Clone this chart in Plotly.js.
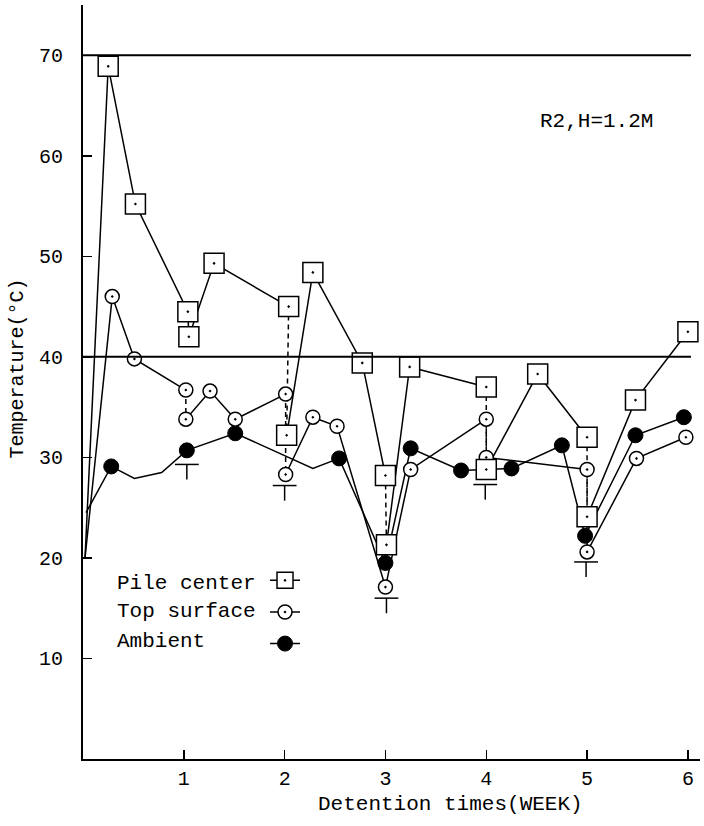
<!DOCTYPE html>
<html><head><meta charset="utf-8">
<script src="https://cdn.plot.ly/plotly-3.0.1.min.js"></script>
<style>html,body{margin:0;padding:0;background:#fff}</style>
</head><body><div id="chart" style="width:704px;height:826px"></div>
<script>
// ---- data (weeks, °C) ----
const pileWeek = [0.02, 0.25, 0.52, 1.04, 1.05, 1.30, 2.04, 2.02, 2.28, 2.77, 3.00, 3.01, 3.24, 4.00, 4.00, 4.51, 5.00, 5.00, 5.48, 6.00];
const pileTemp = [20.0, 68.9, 55.2, 44.5, 42.0, 49.3, 45.0, 32.2, 48.4, 39.4, 28.2, 21.3, 39.0, 37.0, 28.8, 38.3, 32.0, 24.1, 35.7, 42.5];
const pileMeasured = [0,1,1,1,1,1,1,1,1,1,1,1,1,1,1,1,1,1,1,1];
const pileAfterTurn = [7, 11, 14, 17];

const topWeek = [0.02, 0.29, 0.51, 1.02, 1.02, 1.26, 1.51, 2.01, 2.01, 2.28, 2.52, 3.00, 3.25, 4.00, 4.00, 5.00, 5.00, 5.49, 5.98];
const topTemp = [20.0, 46.0, 39.8, 36.7, 33.8, 36.6, 33.8, 36.3, 28.3, 34.0, 33.1, 17.1, 28.8, 33.8, 30.0, 28.8, 20.6, 29.9, 32.0];
const topMeasured = [0,1,1,1,1,1,1,1,1,1,1,1,1,1,1,1,1,1,1];
const topAfterTurn = [4, 8, 14, 16];

const ambWeek = [0.03, 0.28, 0.51, 0.78, 1.03, 1.51, 2.28, 2.54, 3.00, 3.25, 3.75, 4.25, 4.75, 4.98, 5.48, 5.96];
const ambTemp = [24.5, 29.1, 27.9, 28.5, 30.7, 32.4, 28.9, 29.9, 19.5, 30.9, 28.7, 28.9, 31.2, 22.2, 32.2, 34.0];
const ambMeasured = [0,1,0,0,1,1,0,1,1,1,1,1,1,1,1,1];
const ambAfterTurn = [];

// pile turning marks (top of the "T")
const turnWeek = [1.03, 2.00, 3.01, 3.99, 4.99];
const turnTemp = [29.3, 27.2, 16.0, 27.3, 19.6];

const refLevels = [40, 70];
const seriesNames = ['Pile center', 'Top surface', 'Ambient'];
const xTicks = [1, 2, 3, 4, 5, 6];
const yTicks = [10, 20, 30, 40, 50, 60, 70];

// ---- build ----
const FONT = 'Liberation Mono, Courier New, monospace';
function split(x, y, measured, after) {
  const s = {x: [], y: []}, d = {x: [], y: []}, m = {x: [], y: []};
  for (let i = 0; i < x.length; i++) {
    if (after.includes(i)) {
      s.x.push(null); s.y.push(null);
      d.x.push(x[i-1], x[i], null); d.y.push(y[i-1], y[i], null);
    }
    s.x.push(x[i]); s.y.push(y[i]);
    if (measured[i]) { m.x.push(x[i]); m.y.push(y[i]); }
  }
  return {s, d, m};
}
const P = split(pileWeek, pileTemp, pileMeasured, pileAfterTurn);
const T = split(topWeek, topTemp, topMeasured, topAfterTurn);
const A = split(ambWeek, ambTemp, ambMeasured, ambAfterTurn);

const lineStyle = {color: '#000', width: 1.5};
const dashStyle = {color: '#000', width: 1.5, dash: '5px,4px'};
const mk = {
  pile: {symbol: 'square-dot', size: 20, color: '#fff', line: {color: '#000', width: 1.5}},
  top: {symbol: 'circle-dot', size: 14, color: '#fff', line: {color: '#000', width: 1.5}},
  amb: {symbol: 'circle', size: 15, color: '#000', line: {color: '#000', width: 1}}
};
const traces = [];
[P, T, A].forEach(S => {
  traces.push({x: S.s.x, y: S.s.y, mode: 'lines', line: lineStyle, showlegend: false, hoverinfo: 'skip'});
  if (S.d.x.length) traces.push({x: S.d.x, y: S.d.y, mode: 'lines', line: dashStyle, showlegend: false, hoverinfo: 'skip'});
});
// turning marks: horizontal bar with a stem downwards
traces.push({x: turnWeek, y: turnTemp, mode: 'markers',
  marker: {symbol: 'line-ew', size: 17, color: '#000', line: {color: '#000', width: 1.5}},
  error_y: {type: 'constant', symmetric: false, value: 0, valueminus: 1.5, width: 0, thickness: 1.5, color: '#000'},
  showlegend: false, hoverinfo: 'skip'});
traces.push({x: A.m.x, y: A.m.y, mode: 'markers', marker: mk.amb, showlegend: false});
traces.push({x: T.m.x, y: T.m.y, mode: 'markers', marker: mk.top, showlegend: false});
traces.push({x: P.m.x, y: P.m.y, mode: 'markers', marker: mk.pile, showlegend: false});
// legend keys
[mk.pile, mk.top, mk.amb].forEach((m, i) => {
  traces.push({x: [null], y: [null], mode: 'lines+markers', name: ' ', line: lineStyle,
    marker: Object.assign({}, m, {size: Math.min(m.size, 16)}), showlegend: true});
});

const legendY = [0.2334, 0.1954, 0.1556];
const annotations = seriesNames.map((n, i) => ({
  xref: 'paper', yref: 'paper', x: 0.0519, y: legendY[i], xanchor: 'left', yanchor: 'middle',
  text: n, showarrow: false, font: {family: FONT, size: 21, color: '#000'}
}));
annotations.push({xref: 'x', yref: 'y', x: 5.09, y: 63.4, text: 'R2,H=1.2M', showarrow: false,
  font: {family: FONT, size: 21, color: '#000'}});
annotations.push({xref: 'paper', yref: 'paper', x: 0.595, y: -0.0606, xanchor: 'center', yanchor: 'middle',
  text: 'Detention times(WEEK)', showarrow: false, font: {family: FONT, size: 21, color: '#000'}});
annotations.push({xref: 'paper', yref: 'paper', x: -0.107, y: 0.518, xanchor: 'center', yanchor: 'middle',
  textangle: -90, text: 'Temperature(°C)', showarrow: false, font: {family: FONT, size: 20, color: '#000'}});

const shapes = refLevels.map(v => ({type: 'line', xref: 'x', yref: 'y', x0: 0, x1: 6.03, y0: v, y1: v,
  line: {color: '#000', width: 2}}));

const layout = {
  width: 704, height: 826,
  margin: {l: 83, r: 4, t: 5, b: 67},
  paper_bgcolor: '#fff', plot_bgcolor: '#fff',
  font: {family: FONT, color: '#000', size: 20},
  showlegend: true,
  legend: {x: 0.295, y: 0.2645, xanchor: 'left', yanchor: 'top', bgcolor: 'rgba(0,0,0,0)',
    borderwidth: 0, font: {family: FONT, size: 22}, itemwidth: 30},
  xaxis: {range: [0, 6.12], showline: true, linewidth: 2, linecolor: '#000', showgrid: false, zeroline: false,
    tickvals: xTicks, ticktext: xTicks.map(String), ticks: 'inside', ticklen: 9, tickwidth: 1.5, tickcolor: '#000',
    tickfont: {family: FONT, size: 20}, ticklabelstandoff: 0},
  yaxis: {range: [0, 75], showline: true, linewidth: 2, linecolor: '#000', showgrid: false, zeroline: false,
    tickvals: yTicks, ticktext: yTicks.map(String), ticks: 'inside', ticklen: 9, tickwidth: 1.5, tickcolor: '#000',
    tickfont: {family: FONT, size: 20}, ticklabelstandoff: 14},
  shapes, annotations
};
Plotly.newPlot('chart', traces, layout, {displayModeBar: false, staticPlot: true});
</script></body></html>
